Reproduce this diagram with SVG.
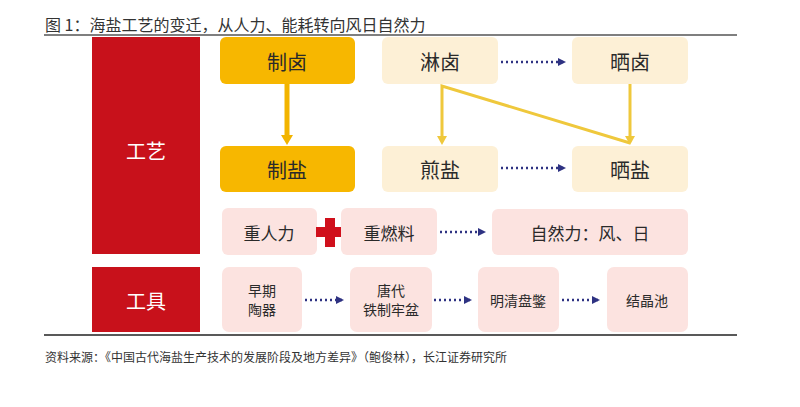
<svg xmlns="http://www.w3.org/2000/svg" width="800" height="407" viewBox="0 0 800 407">
<style>
text{font-family:"Noto Sans CJK SC","Noto Sans",sans-serif;fill:#2a2a2a;text-anchor:middle;dominant-baseline:central}
.t{font-size:16px;text-anchor:start;dominant-baseline:auto;fill:#333}
.f{font-size:12px;text-anchor:start;dominant-baseline:auto;fill:#333}
.cat{fill:#C8111B}
.or{fill:#F7B700}
.cr{fill:#FDF0D6}
.pk{fill:#FCE3E0}
.big{font-size:20px}
.mid{font-size:17px}
.sm{font-size:14px}
.wt{fill:#fff;font-size:20px}
.dot{stroke:#2E3282;stroke-width:2.5;stroke-dasharray:2 3;fill:none}
.y1{stroke:#F2B400;stroke-width:5;fill:none}
.y2{stroke:#EFC83C;stroke-width:3;fill:none}
</style>
<defs>
<marker id="nv" markerWidth="8" markerHeight="8" refX="6" refY="4" orient="auto" markerUnits="userSpaceOnUse"><path d="M0,0 L8,4 L0,8 Z" fill="#2E3282"/></marker>
</defs>
<rect width="800" height="407" fill="#fff"/>
<text class="t" x="45" y="31">图  1：海盐工艺的变迁，从人力、能耗转向风日自然力</text>
<line x1="44" y1="35" x2="737" y2="35" stroke="#555" stroke-width="1.5"/>

<g id="connectors">
<line class="y1" x1="287" y1="84" x2="287" y2="136"/>
<path d="M281,135 L293,135 L287,145 Z" fill="#F2B400"/>
<polyline class="y2" points="630,143 442,86 442,138"/>
<path d="M437,136 L447,136 L442,145 Z" fill="#EFC83C"/>
<line class="y2" x1="630" y1="84" x2="630" y2="138"/>
<path d="M625,136 L635,136 L630,145 Z" fill="#EFC83C"/>
<line class="dot" x1="501" y1="62" x2="564" y2="62" marker-end="url(#nv)"/>
<line class="dot" x1="501" y1="168" x2="564" y2="168" marker-end="url(#nv)"/>
<line class="dot" x1="440" y1="232" x2="484" y2="232" marker-end="url(#nv)"/>
<line class="dot" x1="305" y1="300" x2="342" y2="300" marker-end="url(#nv)"/>
<line class="dot" x1="434" y1="300" x2="470" y2="300" marker-end="url(#nv)"/>
<line class="dot" x1="562" y1="300" x2="598" y2="300" marker-end="url(#nv)"/>
</g>

<g id="n-gongyi"><rect class="cat" x="92" y="37" width="108" height="217"/><text class="wt" x="146" y="150">工艺</text></g>
<g id="n-gongju"><rect class="cat" x="92" y="267" width="108" height="65"/><text class="wt" x="146" y="300">工具</text></g>

<g id="n-zhilu"><rect class="or" x="220" y="37" width="135" height="47" rx="6"/><text class="big" x="287" y="61">制卤</text></g>
<g id="n-zhiyan"><rect class="or" x="220" y="146" width="135" height="46" rx="6"/><text class="big" x="287" y="169">制盐</text></g>
<g id="n-linlu"><rect class="cr" x="382" y="37" width="116" height="47" rx="6"/><text class="big" x="440" y="61">淋卤</text></g>
<g id="n-jianyan"><rect class="cr" x="382" y="146" width="116" height="46" rx="6"/><text class="big" x="440" y="169">煎盐</text></g>
<g id="n-shailu"><rect class="cr" x="572" y="37" width="116" height="47" rx="6"/><text class="big" x="630" y="61">晒卤</text></g>
<g id="n-shaiyan"><rect class="cr" x="572" y="146" width="116" height="46" rx="6"/><text class="big" x="630" y="169">晒盐</text></g>

<g id="n-renli"><rect class="pk" x="222" y="208" width="95" height="47" rx="6"/><text class="mid" x="269" y="232">重人力</text></g>
<g id="n-plus"><rect x="316" y="227" width="28" height="10" fill="#D0101C"/><rect x="325" y="218" width="10" height="29" fill="#D0101C"/></g>
<g id="n-ranliao"><rect class="pk" x="341" y="208" width="96" height="47" rx="6"/><text class="mid" x="389" y="232">重燃料</text></g>
<g id="n-ziran"><rect class="pk" x="492" y="209" width="196" height="46" rx="6"/><text class="mid" x="590" y="232">自然力：风、日</text></g>

<g id="n-taoqi"><rect class="pk" x="222" y="267" width="80" height="65" rx="7"/><text class="sm" x="262" y="290">早期</text><text class="sm" x="262" y="309">陶器</text></g>
<g id="n-laopen"><rect class="pk" x="350" y="267" width="82" height="65" rx="7"/><text class="sm" x="391" y="290">唐代</text><text class="sm" x="391" y="309">铁制牢盆</text></g>
<g id="n-panpie"><rect class="pk" x="478" y="267" width="81" height="65" rx="7"/><text class="sm" x="518" y="300">明清盘鐅</text></g>
<g id="n-jiejing"><rect class="pk" x="607" y="267" width="81" height="65" rx="7"/><text class="sm" x="647" y="300">结晶池</text></g>

<line x1="44" y1="335" x2="737" y2="335" stroke="#222" stroke-width="1.5"/>
<text class="f" x="45" y="362">资料来源：《中国古代海盐生产技术的发展阶段及地方差异》（鲍俊林），长江证券研究所</text>
</svg>
